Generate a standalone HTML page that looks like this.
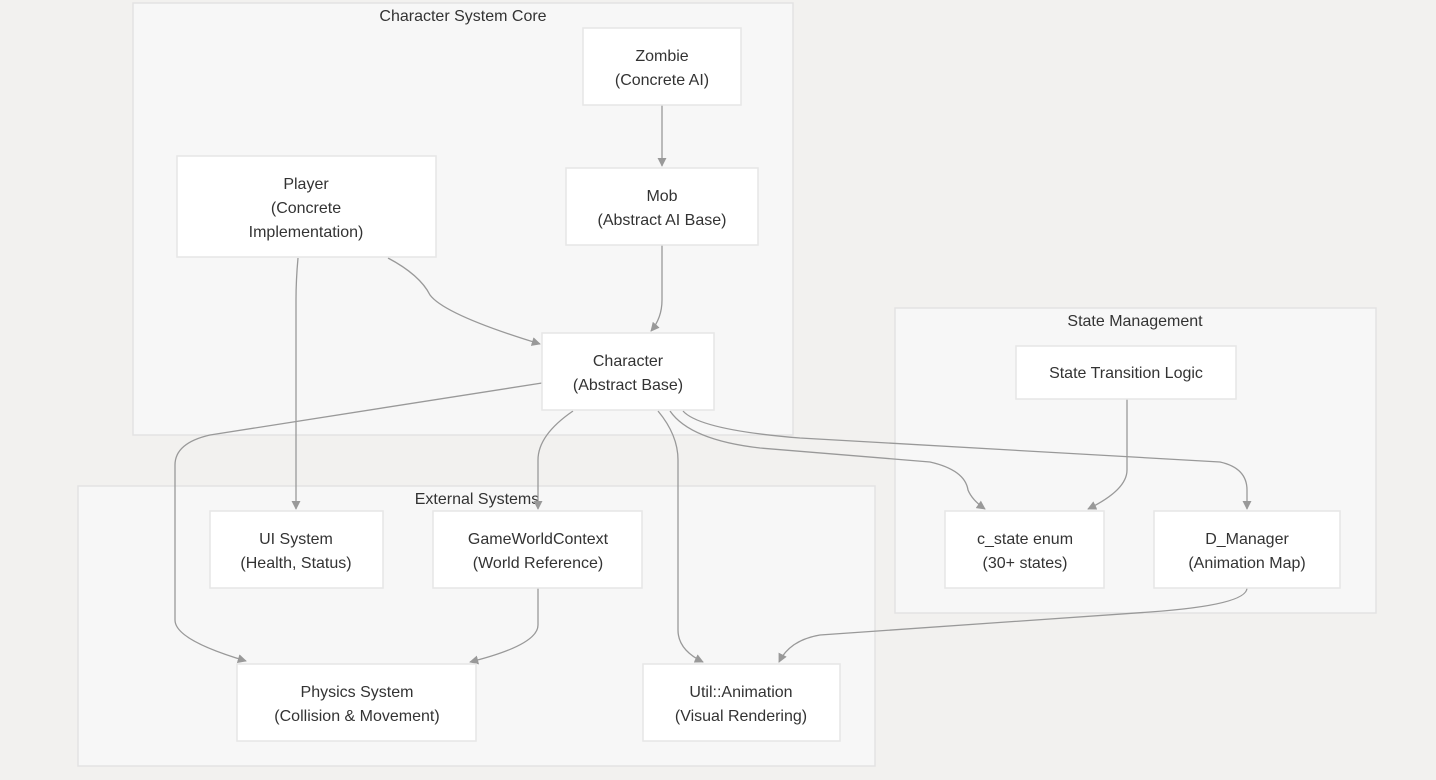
<!DOCTYPE html>
<html><head><meta charset="utf-8"><style>
html,body{margin:0;padding:0;background:#f2f1ef;}
svg{display:block;font-family:"Liberation Sans",sans-serif;}
text{fill:#333;font-size:16px;text-anchor:middle;}
.c{fill:#f7f7f7;stroke:#e3e3e3;stroke-width:1.5}
.n{fill:#fff;stroke:#e6e6e6;stroke-width:1.5}
.e{fill:none;stroke:#999;stroke-width:1.3;marker-end:url(#a)}
</style></head><body>
<svg width="1436" height="780" viewBox="0 0 1436 780">
<defs><marker id="a" viewBox="0 0 10 10" refX="9" refY="5" markerWidth="7" markerHeight="7" orient="auto"><path d="M0,0L10,5L0,10z" fill="#999"/></marker></defs>
<rect x="0" y="0" width="1436" height="780" fill="#f2f1ef"/>
<rect class="c" x="133" y="3" width="660" height="432"/>
<text x="463" y="21">Character System Core</text>
<rect class="c" x="895" y="308" width="481" height="305"/>
<text x="1135" y="326">State Management</text>
<rect class="c" x="78" y="486" width="797" height="280"/>
<text x="477" y="504">External Systems</text>

<path class="e" d="M662,105L662,166"/>
<path class="e" d="M662,245L662,300Q662,318 651,331"/>
<path class="e" d="M388,258Q420,275 430,295Q445,315 540,344"/>
<path class="e" d="M298,258Q296,280 296,300L296,509"/>
<path class="e" d="M542,383L210,435Q175,443 175,465L175,620Q175,640 246,661"/>
<path class="e" d="M573,411Q538,435 538,460L538,509"/>
<path class="e" d="M658,411Q678,435 678,460L678,630Q678,650 703,662"/>
<path class="e" d="M670,411Q690,440 760,448L930,462Q965,470 968,490Q972,500 985,509"/>
<path class="e" d="M683,411Q700,430 800,438L1220,462Q1247,468 1247,490L1247,509"/>
<path class="e" d="M1127,399L1127,470Q1127,490 1088,509"/>
<path class="e" d="M538,588L538,625Q538,645 470,662"/>
<path class="e" d="M1247,588Q1247,605 1150,612L820,635Q790,640 779,662"/>

<rect class="n" x="583" y="28" width="158" height="77"/>
<text x="662" y="61">Zombie</text><text x="662" y="85">(Concrete AI)</text>
<rect class="n" x="566" y="168" width="192" height="77"/>
<text x="662" y="201">Mob</text><text x="662" y="225">(Abstract AI Base)</text>
<rect class="n" x="177" y="156" width="259" height="101"/>
<text x="306" y="189">Player</text><text x="306" y="213">(Concrete</text><text x="306" y="237">Implementation)</text>
<rect class="n" x="542" y="333" width="172" height="77"/>
<text x="628" y="366">Character</text><text x="628" y="390">(Abstract Base)</text>
<rect class="n" x="1016" y="346" width="220" height="53"/>
<text x="1126" y="378">State Transition Logic</text>
<rect class="n" x="210" y="511" width="173" height="77"/>
<text x="296" y="544">UI System</text><text x="296" y="568">(Health, Status)</text>
<rect class="n" x="433" y="511" width="209" height="77"/>
<text x="538" y="544">GameWorldContext</text><text x="538" y="568">(World Reference)</text>
<rect class="n" x="945" y="511" width="159" height="77"/>
<text x="1025" y="544">c_state enum</text><text x="1025" y="568">(30+ states)</text>
<rect class="n" x="1154" y="511" width="186" height="77"/>
<text x="1247" y="544">D_Manager</text><text x="1247" y="568">(Animation Map)</text>
<rect class="n" x="237" y="664" width="239" height="77"/>
<text x="357" y="697">Physics System</text><text x="357" y="721">(Collision &amp; Movement)</text>
<rect class="n" x="643" y="664" width="197" height="77"/>
<text x="741" y="697">Util::Animation</text><text x="741" y="721">(Visual Rendering)</text>
</svg>
</body></html>
